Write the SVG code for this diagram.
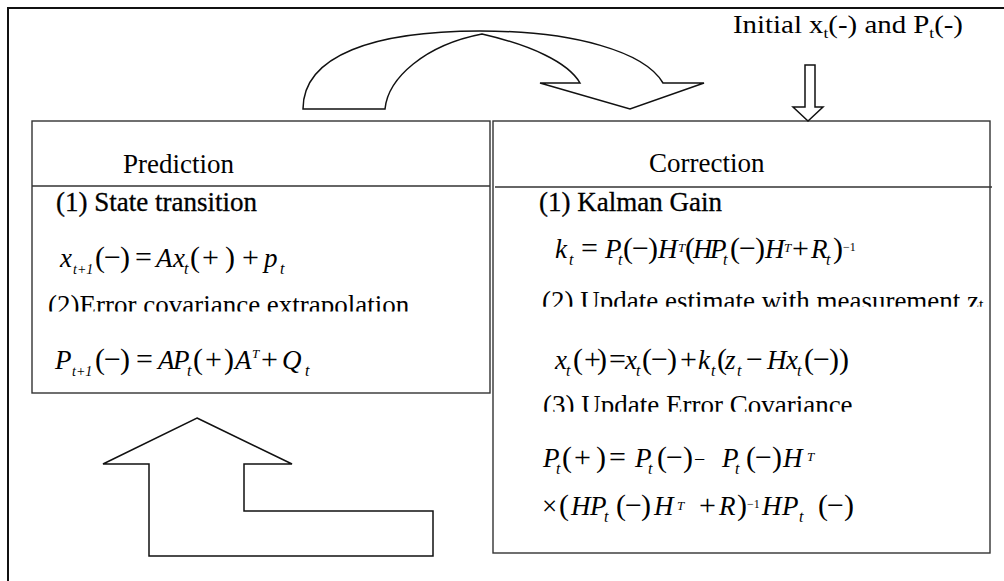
<svg xmlns="http://www.w3.org/2000/svg" width="1004" height="581" viewBox="0 0 1004 581">
<defs>
<style>
.t{font-family:"Liberation Serif","Times New Roman",serif;fill:#000;font-size:27px}
.b{stroke:#000;stroke-width:0.3}
.i{font-style:italic}
.o{font-size:30px;font-style:normal}
.sb{font-size:16px;font-style:italic}
.s14{font-size:14px;font-style:italic}
.sp{font-size:13px;font-style:italic}
.spu{font-size:12px}
.box{fill:#fff;stroke:#333;stroke-width:1.4}
.sep{stroke:#333;stroke-width:1.4;fill:none}
.arr{fill:#fff;stroke:#111;stroke-width:1.5;stroke-linejoin:miter}
</style>
<clipPath id="c1"><rect x="30" y="280" width="460" height="31.5"/></clipPath>
<clipPath id="c2"><rect x="495" y="280" width="495" height="26.8"/></clipPath>
<clipPath id="c3"><rect x="495" y="385" width="495" height="26.8"/></clipPath>
</defs>
<rect width="1004" height="581" fill="#fff"/>
<path d="M8,581 L8,8 L1004,8" fill="none" stroke="#111" stroke-width="2"/>

<g id="prediction">
<rect class="box" x="32" y="121" width="458" height="272"/>
<line class="sep" x1="32" y1="186" x2="490" y2="186"/>
<text class="t" x="123" y="173">Prediction</text>
<text class="t b" x="56" y="211">(1) State transition</text>
<text class="t">
<tspan class="i" x="60" y="267">x</tspan><tspan class="s14" x="73" y="274">t+1</tspan><tspan class="o" x="95 104 120" y="267">(−)</tspan><tspan class="o" x="135" y="267">=</tspan><tspan class="i" x="156" y="267">A</tspan><tspan class="i" x="173" y="267">x</tspan><tspan class="sb" x="184" y="274">t</tspan><tspan class="o" x="190 202 225" y="267">(+)</tspan><tspan class="o" x="242" y="267">+</tspan><tspan class="i" x="264" y="267">p</tspan><tspan class="sb" x="280" y="274">t</tspan>
</text>
<text class="t" x="48" y="314" clip-path="url(#c1)">(2)Error covariance extrapolation</text>
<text class="t">
<tspan class="i" x="55" y="369">P</tspan><tspan class="s14" x="72" y="376">t+1</tspan><tspan class="o" x="95 104 120" y="369">(−)</tspan><tspan class="o" x="136" y="369">=</tspan><tspan class="i" x="158" y="369">A</tspan><tspan class="i" x="173" y="369">P</tspan><tspan class="sb" x="187" y="376">t</tspan><tspan class="o" x="193 205 224" y="369">(+)</tspan><tspan class="i" x="235" y="369">A</tspan><tspan class="sp" x="252" y="358">T</tspan><tspan class="o" x="261" y="369">+</tspan><tspan class="i" x="282" y="369">Q</tspan><tspan class="sb" x="305" y="376">t</tspan>
</text>
</g>

<g id="correction">
<rect class="box" x="493" y="121" width="497" height="432"/>
<line class="sep" x1="495" y1="187" x2="992" y2="187"/>
<text class="t" x="649" y="172">Correction</text>
<text class="t b" x="539" y="211">(1) Kalman Gain</text>
<text class="t">
<tspan class="i" x="555" y="258">k</tspan><tspan class="sb" x="569" y="265">t</tspan><tspan class="o" x="581" y="258">=</tspan><tspan class="i" x="605" y="258">P</tspan><tspan class="sb" x="618" y="265">t</tspan><tspan class="o" x="623 632 648" y="258">(−)</tspan><tspan class="i" x="658" y="258">H</tspan><tspan class="sp" x="678" y="252">T</tspan><tspan class="o" x="685" y="258">(</tspan><tspan class="i" x="693" y="258">H</tspan><tspan class="i" x="710" y="258">P</tspan><tspan class="sb" x="723" y="265">t</tspan><tspan class="o" x="730 739 755" y="258">(−)</tspan><tspan class="i" x="765" y="258">H</tspan><tspan class="sp" x="784" y="252">T</tspan><tspan class="o" x="792" y="258">+</tspan><tspan class="i" x="811" y="258">R</tspan><tspan class="sb" x="826" y="265">t</tspan><tspan class="o" x="833" y="258">)</tspan><tspan class="spu" x="843" y="251">−1</tspan>
</text>
<text class="t" x="542" y="310" clip-path="url(#c2)">(2) Update estimate with measurement z<tspan font-size="16">t</tspan></text>
<text class="t">
<tspan class="i" x="555" y="369">x</tspan><tspan class="sb" x="566" y="376">t</tspan><tspan class="o" x="573 584 597" y="369">(+)</tspan><tspan class="o" x="609" y="369">=</tspan><tspan class="i" x="625" y="369">x</tspan><tspan class="sb" x="636" y="376">t</tspan><tspan class="o" x="642 651 667" y="369">(−)</tspan><tspan class="o" x="680" y="369">+</tspan><tspan class="i" x="698" y="369">k</tspan><tspan class="sb" x="711" y="376">t</tspan><tspan class="o" x="717" y="369">(</tspan><tspan class="i" x="725" y="369">z</tspan><tspan class="sb" x="737" y="376">t</tspan><tspan class="o" x="746" y="369">−</tspan><tspan class="i" x="767" y="369">H</tspan><tspan class="i" x="786" y="369">x</tspan><tspan class="sb" x="797" y="376">t</tspan><tspan class="o" x="804 813 829 839" y="369">(−))</tspan>
</text>
<text class="t" x="543" y="414" clip-path="url(#c3)">(3) Update Error Covariance</text>
<text class="t">
<tspan class="i" x="543" y="467">P</tspan><tspan class="sb" x="556" y="474">t</tspan><tspan class="o" x="562 574 596" y="467">(+)</tspan><tspan class="o" x="609" y="467">=</tspan><tspan class="i" x="635" y="467">P</tspan><tspan class="sb" x="648" y="474">t</tspan><tspan class="o" x="657 666 683" y="467">(−)</tspan><tspan font-size="20" x="694" y="466">−</tspan><tspan class="i" x="722" y="467">P</tspan><tspan class="sb" x="735" y="474">t</tspan><tspan class="o" x="746 755 772" y="467">(−)</tspan><tspan class="i" x="783" y="467">H</tspan><tspan class="sp" x="807" y="461">T</tspan>
</text>
<text class="t">
<tspan x="542" y="515">×</tspan><tspan class="o" x="559" y="515">(</tspan><tspan class="i" x="571" y="515">H</tspan><tspan class="i" x="590" y="515">P</tspan><tspan class="sb" x="604" y="522">t</tspan><tspan class="o" x="616 625 641" y="515">(−)</tspan><tspan class="i" x="654" y="515">H</tspan><tspan class="sp" x="677" y="510">T</tspan><tspan class="o" x="699" y="515">+</tspan><tspan class="i" x="719" y="515">R</tspan><tspan class="o" x="737" y="515">)</tspan><tspan class="spu" x="747" y="508">−1</tspan><tspan class="i" x="762" y="515">H</tspan><tspan class="i" x="782" y="515">P</tspan><tspan class="sb" x="799" y="522">t</tspan><tspan class="o" x="818 827 844" y="515">(−)</tspan>
</text>
</g>

<g id="initial">
<text class="t" style="font-size:25px" x="733" y="33" textLength="230" lengthAdjust="spacingAndGlyphs">Initial x<tspan font-size="15" y="38">t</tspan><tspan y="33">(-) and P</tspan><tspan font-size="15" y="38">t</tspan><tspan y="33">(-)</tspan></text>
</g>

<g id="connectors">
<path class="arr" d="M303,109 L385,109 C388,78 425,45 482,34 C530,45 568,62 580,83 L540,83 L630,109 L704,83 L663,83 C645,52 575,31 480,31 C375,31 303,55 303,109 Z"/>
<polygon class="arr" points="805,65 815,65 815,107 823,107 808,121 793,107 805,107"/>
<polygon class="arr" points="197,418 292,464 244,464 244,511 433,511 433,556 149,556 149,464 103,464"/>
</g>
</svg>
